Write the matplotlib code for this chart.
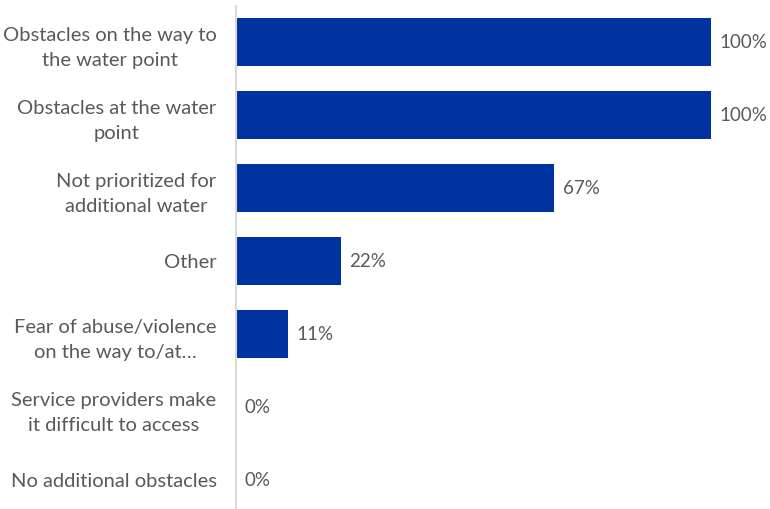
import matplotlib.pyplot as plt

categories = [
    "Obstacles on the way to\nthe water point",
    "Obstacles at the water\npoint",
    "Not prioritized for\nadditional water",
    "Other",
    "Fear of abuse/violence\non the way to/at…",
    "Service providers make\nit difficult to access",
    "No additional obstacles",
]
values = [100, 100, 67, 22, 11, 0, 0]

bar_color = "#0033A0"
text_color = "#595959"

plt.rcParams["font.family"] = ["Lato", "DejaVu Sans"]

fig = plt.figure(figsize=(7.7, 5.09), dpi=100)
W, H = 770, 509
# axes span 0-100% between x=236 and x=711 px; rows 73 px apart
ax = fig.add_axes([236 / W, (H - 516.5) / H, 475 / W, 511 / H])

y = list(range(len(categories)))
ax.barh(y, values, height=0.66, color=bar_color)

ax.set_xlim(0, 100)
ax.set_ylim(len(categories) - 0.5, -0.5)

for yi, v in zip(y, values):
    ax.annotate(f"{v}%", (v, yi), xytext=(6, 0), textcoords="offset points",
                ha="left", va="center", fontsize=13.5, color=text_color,
                annotation_clip=False)

ax.set_yticks(y)
ax.set_yticklabels(categories, fontsize=14.5, color=text_color,
                   linespacing=1.6, multialignment="center")
ax.tick_params(axis="y", length=0, pad=14)
ax.set_xticks([])

for side in ["top", "right", "bottom"]:
    ax.spines[side].set_visible(False)
ax.spines["left"].set_color("#D9D9D9")
ax.spines["left"].set_linewidth(1.5)

fig.savefig("out.png", dpi=100)
